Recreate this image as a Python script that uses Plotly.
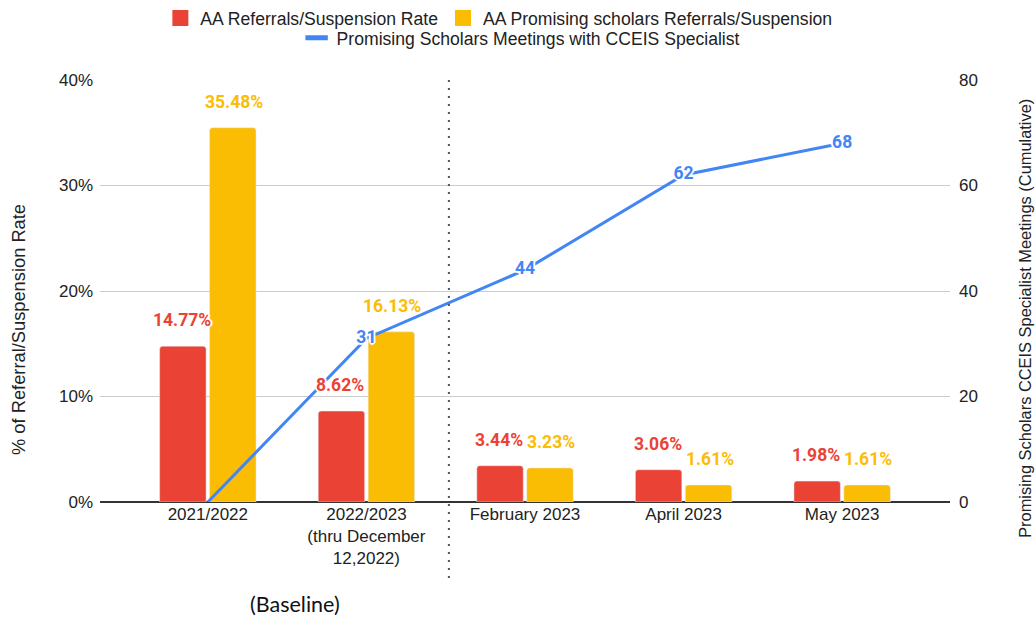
import plotly.graph_objects as go

categories = ["2021/2022", "2022/2023<br>(thru December<br>12,2022)",
              "February 2023", "April 2023", "May 2023"]
aa_rate = [14.77, 8.62, 3.44, 3.06, 1.98]
ps_rate = [35.48, 16.13, 3.23, 1.61, 1.61]
meetings = [0, 31, 44, 62, 68]
left_ticks = [0, 10, 20, 30, 40]
right_ticks = [0, 20, 40, 60, 80]

NAME_AA = "AA Referrals/Suspension Rate"
NAME_PS = "AA Promising scholars Referrals/Suspension"
NAME_MT = "Promising Scholars Meetings with CCEIS Specialist"

RED = "#EA4335"
YELLOW = "#FBBC04"
BLUE = "#4285F4"
HALO = ("1px 1px 1px white, -1px -1px 1px white, 1px -1px 1px white, "
        "-1px 1px 1px white, 0 2px 1px white, 0 -2px 1px white, "
        "2px 0 1px white, -2px 0 1px white")
TXT = "#222222"
BASE_FONT = "Liberation Sans, Arial, sans-serif"
LABEL_FONT = "Roboto, sans-serif"
LBL = 17.5

fig = go.Figure()
fig.add_trace(go.Bar(
    x=categories, y=aa_rate, name=NAME_AA, showlegend=False,
    marker=dict(color=RED, cornerradius=3),
))
fig.add_trace(go.Bar(
    x=categories, y=ps_rate, name=NAME_PS, showlegend=False,
    marker=dict(color=YELLOW, cornerradius=3),
))
fig.add_trace(go.Scatter(
    x=categories, y=meetings, yaxis="y2", mode="lines+text",
    name=NAME_MT, showlegend=False,
    line=dict(color=BLUE, width=3),
    text=[str(v) if v else "" for v in meetings],
    textposition="middle center",
    textfont=dict(family=LABEL_FONT, size=LBL, color=BLUE, weight="bold", shadow=HALO),
    cliponaxis=False,
))

# legend entries (symbols only, no data)
fig.add_trace(go.Scatter(x=[None], y=[None], mode="markers", name=NAME_AA,
                         marker=dict(symbol="square", size=16, color=RED),
                         legend="legend"))
fig.add_trace(go.Scatter(x=[None], y=[None], mode="markers", name=NAME_PS,
                         marker=dict(symbol="square", size=16, color=YELLOW),
                         legend="legend"))
fig.add_trace(go.Scatter(x=[None], y=[None], mode="markers", name=NAME_MT,
                         marker=dict(symbol="line-ew", size=16,
                                     line=dict(color=BLUE, width=5)),
                         legend="legend2"))

annotations = []
for cat, a, p in zip(categories, aa_rate, ps_rate):
    annotations.append(dict(x=cat, y=a, xref="x", yref="y", text=f"{a:.2f}%",
                            showarrow=False, xshift=-26, yshift=26, yanchor="middle",
                            font=dict(family=LABEL_FONT, size=LBL, color=RED,
                                      weight="bold", shadow=HALO)))
    annotations.append(dict(x=cat, y=p, xref="x", yref="y", text=f"{p:.2f}%",
                            showarrow=False, xshift=26, yshift=26, yanchor="middle",
                            font=dict(family=LABEL_FONT, size=LBL, color=YELLOW,
                                      weight="bold", shadow=HALO)))

annotations.append(dict(x=-0.0953, y=0.41, xref="paper", yref="paper",
                        text="% of Referral/Suspension Rate", textangle=-90,
                        showarrow=False, xanchor="center", yanchor="middle",
                        font=dict(family=BASE_FONT, size=18.3, color=TXT)))
annotations.append(dict(x=1.088, y=0.436, xref="paper", yref="paper",
                        text="Promising Scholars CCEIS Specialist Meetings (Cumulative)",
                        textangle=-90, showarrow=False, xanchor="center", yanchor="middle",
                        font=dict(family=BASE_FONT, size=16.4, color=TXT)))
annotations.append(dict(x=0.55, y=-0.242, xref="x", yref="paper", text="(Baseline)",
                        showarrow=False, xanchor="center", yanchor="middle",
                        font=dict(family="Lato, sans-serif", size=21.5, color="#111111")))

fig.update_layout(
    width=1035, height=618,
    margin=dict(l=100, r=85, t=80, b=116, autoexpand=False),
    paper_bgcolor="white", plot_bgcolor="white",
    barmode="group", bargap=0.37, bargroupgap=0.07,
    font=dict(family=BASE_FONT, size=17, color=TXT),
    xaxis=dict(type="category", range=[-0.68, 4.68], showgrid=False,
               showline=False, ticks="", tickfont=dict(size=17, color=TXT)),
    yaxis=dict(range=[0, 40], tickmode="array", tickvals=left_ticks,
               ticktext=[f"{v}%" for v in left_ticks],
               showgrid=True, gridcolor="#cccccc", gridwidth=1,
               zeroline=True, zerolinecolor="#333333", zerolinewidth=1.5,
               ticks="", ticklabelstandoff=6, tickfont=dict(size=17, color=TXT)),
    yaxis2=dict(range=[0, 80], tickmode="array", tickvals=right_ticks,
                ticktext=[str(v) for v in right_ticks],
                overlaying="y", side="right",
                showgrid=False, zeroline=False, ticks="", ticklabelstandoff=8,
                tickfont=dict(size=17, color=TXT)),
    legend=dict(orientation="h", xref="container", yref="container",
                x=0.482, xanchor="center", y=1.0, yanchor="top",
                bgcolor="rgba(0,0,0,0)",
                font=dict(size=17.6, color=TXT), itemsizing="trace",
                traceorder="normal", itemwidth=30),
    legend2=dict(orientation="h", xref="container", yref="container",
                 x=0.503, xanchor="center", y=0.968, yanchor="top",
                 bgcolor="rgba(0,0,0,0)",
                 font=dict(size=17.6, color=TXT), itemsizing="trace", itemwidth=30),
    annotations=annotations,
    shapes=[dict(type="line", xref="x", yref="paper", x0=1.52, x1=1.52,
                 y0=-0.18, y1=1.0,
                 line=dict(color="#4a5568", width=2, dash="2px,6px"))],
)

fig.write_html("out.html", config={"displayModeBar": False},
               post_script="document.body.style.margin='0';")
